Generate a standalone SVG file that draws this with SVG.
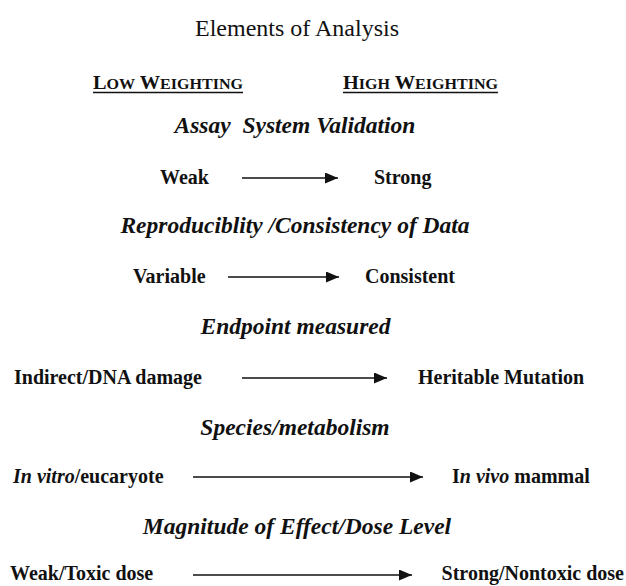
<svg xmlns="http://www.w3.org/2000/svg" width="626" height="586" viewBox="0 0 626 586">
<style>
text{font-family:"Liberation Serif","Times New Roman",serif;fill:#111}
.title{font-size:24px;text-anchor:middle}
.head{font-size:23.5px;font-weight:bold;font-style:italic;text-anchor:middle}
.lab{font-size:20px;font-weight:bold}
.sc{font-size:19px;font-weight:bold}
.it{font-style:italic}
.conn line{stroke:#111;stroke-width:1.6}
.ul{stroke:#111;stroke-width:1.6}
</style>
<defs>
<marker id="ah" viewBox="0 0 13 11" refX="13" refY="5.5" markerWidth="13" markerHeight="11" markerUnits="userSpaceOnUse" orient="auto">
<path d="M0,0 L13,5.5 L0,11 Z" fill="#111"/>
</marker>
</defs>
<rect width="626" height="586" fill="#fff"/>
<g id="title"><text class="title" x="297" y="36">Elements of Analysis</text></g>
<g id="low-weighting">
<text class="sc" x="93" y="89" textLength="150" lengthAdjust="spacingAndGlyphs">L<tspan font-size="15">OW</tspan> W<tspan font-size="15">EIGHTING</tspan></text>
<line class="ul" x1="93" y1="92.5" x2="243" y2="92.5"/>
</g>
<g id="high-weighting">
<text class="sc" x="343" y="89" textLength="155" lengthAdjust="spacingAndGlyphs">H<tspan font-size="15">IGH</tspan> W<tspan font-size="15">EIGHTING</tspan></text>
<line class="ul" x1="343" y1="92.5" x2="498" y2="92.5"/>
</g>
<g id="h1"><text class="head" x="295" y="133" xml:space="preserve">Assay  System Validation</text></g>
<g id="n-weak"><text class="lab" x="160" y="184">Weak</text></g>
<g id="n-strong"><text class="lab" x="374" y="184">Strong</text></g>
<g id="h2"><text class="head" x="295" y="233">Reproduciblity /Consistency of Data</text></g>
<g id="n-variable"><text class="lab" x="133" y="283">Variable</text></g>
<g id="n-consistent"><text class="lab" x="365" y="283">Consistent</text></g>
<g id="h3"><text class="head" x="295.5" y="334">Endpoint measured</text></g>
<g id="n-indirect"><text class="lab" x="14" y="384">Indirect/DNA damage</text></g>
<g id="n-heritable"><text class="lab" x="418" y="384">Heritable Mutation</text></g>
<g id="h4"><text class="head" x="295" y="435">Species/metabolism</text></g>
<g id="n-invitro"><text class="lab" x="13" y="483"><tspan class="it">In vitro</tspan>/eucaryote</text></g>
<g id="n-invivo"><text class="lab" x="452" y="483">I<tspan class="it">n vivo</tspan> mammal</text></g>
<g id="h5"><text class="head" x="297" y="534">Magnitude of Effect/Dose Level</text></g>
<g id="n-weaktoxic"><text class="lab" x="10" y="580">Weak/Toxic dose</text></g>
<g id="n-strongnontoxic"><text class="lab" x="624" y="580" text-anchor="end">Strong/Nontoxic dose</text></g>
<g id="connectors" class="conn">
<line x1="242" y1="178" x2="338" y2="178" marker-end="url(#ah)"/>
<line x1="228" y1="277" x2="339" y2="277" marker-end="url(#ah)"/>
<line x1="242" y1="378" x2="387" y2="378" marker-end="url(#ah)"/>
<line x1="193" y1="477" x2="423" y2="477" marker-end="url(#ah)"/>
<line x1="193" y1="575" x2="412" y2="575" marker-end="url(#ah)"/>
</g>
</svg>
